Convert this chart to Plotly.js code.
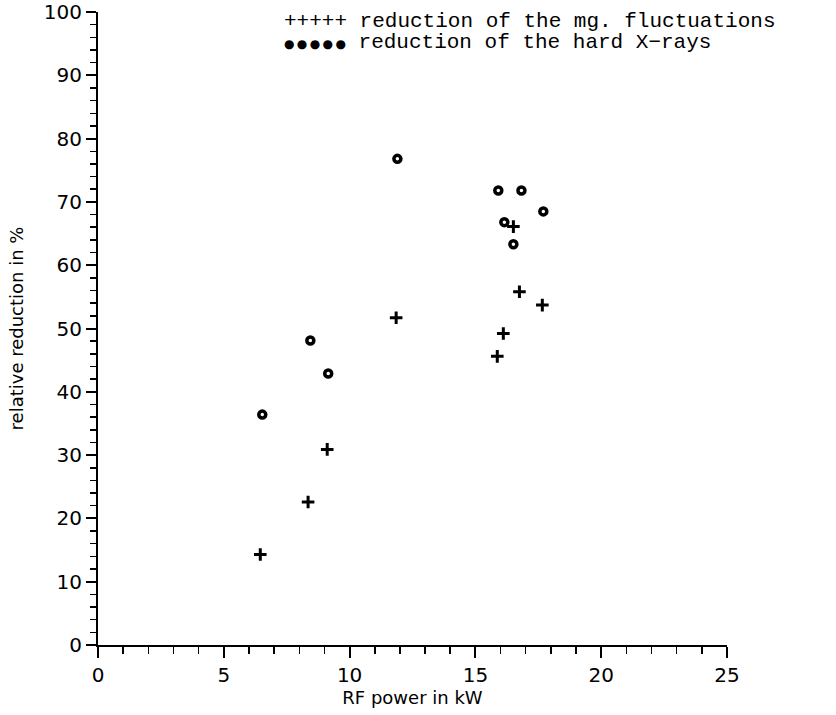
<!DOCTYPE html>
<html>
<head>
<meta charset="utf-8">
<script src="https://cdn.plot.ly/plotly-3.0.1.min.js"></script>
<style>body{margin:0;background:#fff}#chart{width:836px;height:715px}</style>
</head>
<body>
<div id="chart"></div>
<script>
// RF power (kW) and relative reduction (%)
const mgPower     = [6.45, 8.35, 9.11, 11.85, 15.87, 16.11, 16.75, 17.66, 16.51];
const mgReduction = [14.3, 22.6, 30.9, 51.7, 45.6, 49.2, 55.8, 53.7, 66.1];
const xrPower     = [6.53, 8.44, 9.15, 11.9, 15.91, 16.83, 17.70, 16.15, 16.51];
const xrReduction = [36.4, 48.1, 42.9, 76.8, 71.8, 71.8, 68.5, 66.8, 63.3];
const legendLabels = ['reduction of the mg. fluctuations', 'reduction of the hard X\u2212rays'];
const xTitle = 'RF power in kW';
const yTitle = 'relative reduction in %';

const traces = [
  {x: mgPower, y: mgReduction, mode: 'markers', type: 'scatter', name: legendLabels[0],
   marker: {symbol: 'cross-thin-open', size: 9, color: '#000', line: {width: 3, color: '#000'}}},
  {x: xrPower, y: xrReduction, mode: 'markers', type: 'scatter', name: legendLabels[1],
   marker: {symbol: 'circle-open', size: 7, color: '#000', line: {width: 3.5, color: '#000'}}}
];

const tickFont = {family: 'DejaVu Sans, sans-serif', size: 20, color: '#000'};
const titleFont = {family: 'DejaVu Sans, sans-serif', size: 18, color: '#000'};
const legendFont = {family: 'Liberation Mono, DejaVu Sans Mono, monospace', size: 21, color: '#000'};
const dots = '<span style="font-family:DejaVu Sans;font-size:12px">\u25CF&#8201;\u25CF&#8201;\u25CF&#8201;\u25CF&#8201;\u25CF</span>';
const layout = {
  width: 836, height: 715,
  margin: {l: 98, r: 109, t: 12, b: 70},
  paper_bgcolor: '#fff', plot_bgcolor: '#fff',
  showlegend: false,
  xaxis: {
    range: [0, 25], dtick: 5, tick0: 0, showgrid: false, zeroline: false,
    showline: true, linewidth: 2, linecolor: '#000',
    ticks: 'outside', ticklen: 11, tickwidth: 2, tickcolor: '#000',
    minor: {dtick: 1, ticks: 'outside', ticklen: 7, tickwidth: 1.5, tickcolor: '#000', showgrid: false},
    tickfont: tickFont, ticklabeloverflow: 'allow',
    title: {text: xTitle, font: titleFont, standoff: 4}
  },
  yaxis: {
    range: [0, 100], dtick: 10, tick0: 0, showgrid: false, zeroline: false,
    showline: true, linewidth: 2, linecolor: '#000',
    ticks: 'outside', ticklen: 10, tickwidth: 2, tickcolor: '#000',
    minor: {dtick: 2, ticks: 'outside', ticklen: 6, tickwidth: 1.5, tickcolor: '#000', showgrid: false},
    tickfont: tickFont, ticklabeloverflow: 'allow',
    title: {text: yTitle, font: titleFont, standoff: 16}
  },
  annotations: [
    {xref: 'paper', yref: 'paper', x: (282 - 98) / 629, y: 1 + (12 - 21) / 633, xanchor: 'left', yanchor: 'middle',
     showarrow: false, text: '+++++ ' + legendLabels[0], font: legendFont},
    {xref: 'paper', yref: 'paper', x: (282 - 98) / 629, y: 1 + (12 - 43) / 633, xanchor: 'left', yanchor: 'middle',
     showarrow: false, text: dots + ' ' + legendLabels[1], font: legendFont}
  ]
};
Plotly.newPlot('chart', traces, layout, {displayModeBar: false, staticPlot: true});
</script>
</body>
</html>
